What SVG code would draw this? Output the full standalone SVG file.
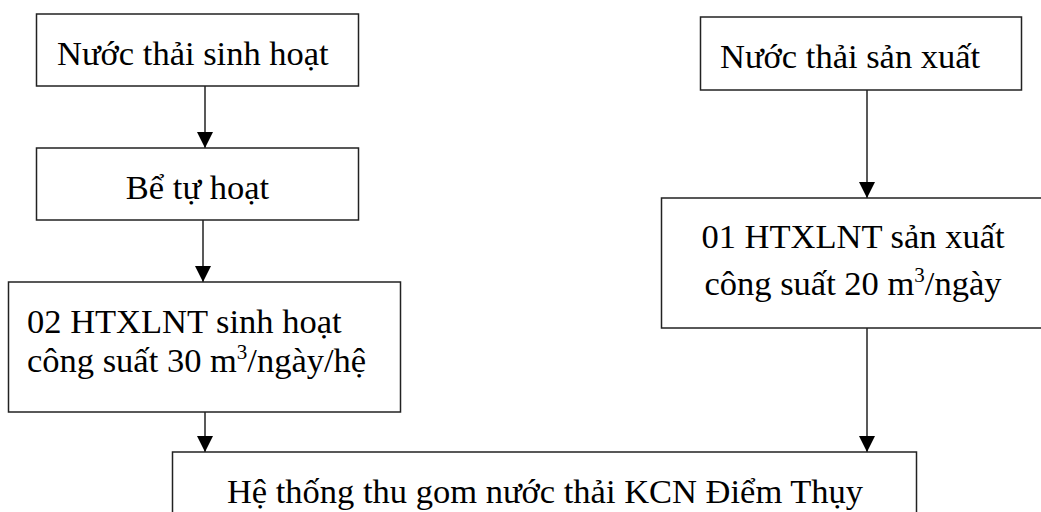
<svg xmlns="http://www.w3.org/2000/svg" width="1041" height="512" viewBox="0 0 1041 512">
<style>
.box{fill:#fff;stroke:#222;stroke-width:1.5}
.t{font-family:"Liberation Serif","Times New Roman",serif;font-size:34.5px;fill:#000}
.c{text-anchor:middle}
.line{stroke:#222;stroke-width:1.5;fill:none}
.sup{font-size:21px}
</style>
<defs>
<marker id="arr" markerWidth="16" markerHeight="16" viewBox="0 0 16 16" refX="16" refY="8" orient="auto" markerUnits="userSpaceOnUse">
<path d="M0,0 L16,8 L0,16 Z" fill="#000"/>
</marker>
</defs>
<rect width="1041" height="512" fill="#fff"/>
<g id="connectors">
<line class="line" x1="205" y1="86" x2="205" y2="148" marker-end="url(#arr)"/>
<line class="line" x1="203" y1="220" x2="203" y2="282" marker-end="url(#arr)"/>
<line class="line" x1="205" y1="412" x2="205" y2="452" marker-end="url(#arr)"/>
<line class="line" x1="867" y1="90" x2="867" y2="198" marker-end="url(#arr)"/>
<line class="line" x1="867" y1="328" x2="867" y2="452" marker-end="url(#arr)"/>
</g>
<g id="n1">
<rect class="box" x="36.5" y="14" width="322" height="72"/>
<text class="t" x="57" y="65">Nước thải sinh hoạt</text>
</g>
<g id="n2">
<rect class="box" x="36.5" y="148" width="322" height="72"/>
<text class="t c" x="197.5" y="199">Bể tự hoạt</text>
</g>
<g id="n3">
<rect class="box" x="8.5" y="282" width="392" height="130"/>
<text class="t" x="27" y="333">02 HTXLNT sinh hoạt</text>
<text class="t" x="27" y="372">công suất 30 m<tspan class="sup" dy="-13">3</tspan><tspan dy="13">/ngày/hệ</tspan></text>
</g>
<g id="n4">
<rect class="box" x="700.5" y="17" width="321" height="73"/>
<text class="t" x="720" y="68">Nước thải sản xuất</text>
</g>
<g id="n5">
<rect class="box" x="661.5" y="198" width="384" height="130"/>
<text class="t c" x="853" y="248">01 HTXLNT sản xuất</text>
<text class="t c" x="853" y="295">công suất 20 m<tspan class="sup" dy="-13">3</tspan><tspan dy="13">/ngày</tspan></text>
</g>
<g id="n6">
<rect class="box" x="172.5" y="452" width="744" height="80"/>
<text class="t c" x="545" y="503">Hệ thống thu gom nước thải KCN Điểm Thụy</text>
</g>
</svg>
